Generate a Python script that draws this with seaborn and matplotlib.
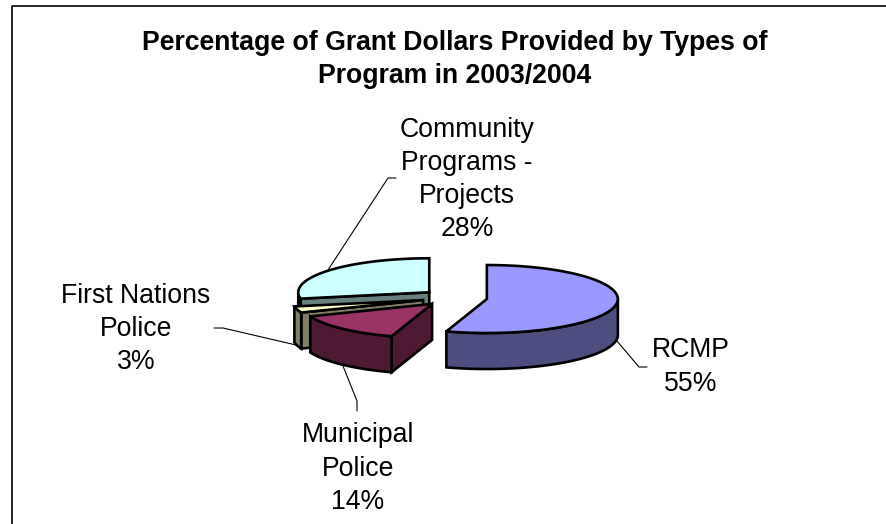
import numpy as np
import matplotlib
matplotlib.use("Agg")
import matplotlib.pyplot as plt
from matplotlib.patches import Polygon
import seaborn as sns

# Grant dollars by program type, 2003/2004
programs = ["RCMP", "Municipal\nPolice", "First Nations\nPolice", "Community\nPrograms -\nProjects"]
shares = [55, 14, 3, 28]
top_colors = ["#9999FF", "#993366", "#FFFFCC", "#CCFFFF"]
side_colors = ["#4D4D80", "#4D1933", "#808066", "#668080"]

TITLE = "Percentage of Grant Dollars Provided by Types of\nProgram in 2003/2004"

# Pie geometry in figure pixels
WIDTH, HEIGHT = 887, 524
CENTER = (454.5, 297.7)
RX, RY = 131.0, 34.0
DEPTH = 36.0
EXPLODE = 0.25
EDGE = 1.9

label_xy = [(691, 367), (358, 468.5), (136, 329), (467, 179.5)]
leaders = [
    [(617, 341), (639, 367), (647, 367)],
    [(343, 366), (357, 401), (357, 411)],
    [(296, 345), (223, 328), (214, 328)],
    [(328, 270), (388, 178), (396, 178)],
]

sns.set_theme(style="white")
plt.rcParams["font.family"] = ["Liberation Sans", "DejaVu Sans"]

fig = plt.figure(figsize=(WIDTH / 100, HEIGHT / 100), dpi=100)
ax = fig.add_axes([0, 0, 1, 1])
ax.set_xlim(0, WIDTH)
ax.set_ylim(HEIGHT, 0)
ax.axis("off")

# Chart frame: open at the bottom and on the right side of the canvas
ax.plot([12, 12, WIDTH], [HEIGHT, 6, 6], color="black", lw=1.2, solid_capstyle="butt")


def ellipse_points(cx, cy, start, stop, n=80):
    t = np.radians(np.linspace(start, stop, n))
    return np.column_stack([cx + RX * np.cos(t), cy + RY * np.sin(t)])


def draw_slice(start, stop, top, side, z):
    mid = np.radians((start + stop) / 2)
    cx = CENTER[0] + EXPLODE * RX * np.cos(mid)
    cy = CENTER[1] + EXPLODE * RY * np.sin(mid)
    style = dict(edgecolor="black", lw=EDGE, joinstyle="miter", zorder=z)
    centre = np.array([cx, cy])
    down = np.array([0, DEPTH])

    rim = ellipse_points(cx, cy, start, stop)
    first = rim[0]

    # Leading cut face, the only one turned towards the viewer
    face = np.array([centre, first, first + down, centre + down])
    ax.add_patch(Polygon(face, facecolor=side, **style))

    # Outer wall where the rim faces the viewer (sine of the angle positive)
    lo, hi = max(start, 0), min(stop, 180)
    if hi > lo:
        wall = ellipse_points(cx, cy, lo, hi)
        ax.add_patch(Polygon(np.vstack([wall, (wall + down)[::-1]]), facecolor=side, **style))

    ax.add_patch(Polygon(np.vstack([centre, rim]), facecolor=top, **style))


# Slices run clockwise from twelve o'clock; back slices are painted first
fractions = np.array(shares) / sum(shares)
edges = -90 + 360 * np.concatenate([[0], np.cumsum(fractions)])
spans = list(zip(edges[:-1], edges[1:]))
for z, i in enumerate([3, 2, 1, 0]):
    draw_slice(spans[i][0], spans[i][1], top_colors[i], side_colors[i], 3 + z)

for path in leaders:
    xs, ys = zip(*path)
    ax.plot(xs, ys, color="black", lw=0.8, zorder=2)

for name, share, (x, y) in zip(programs, shares, label_xy):
    ax.text(x, y, f"{name}\n{share}%", ha="center", va="center", fontsize=19.2,
            color="black", linespacing=1.36)

ax.text(455, 59.5, TITLE, ha="center", va="center", fontsize=19.2, fontweight="bold",
        color="black", linespacing=1.36)

fig.savefig("out.png", dpi=100)
